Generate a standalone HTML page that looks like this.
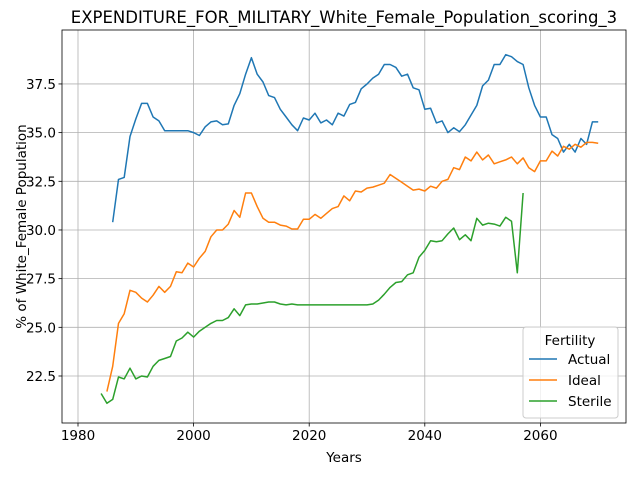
<!DOCTYPE html>
<html><head><meta charset="utf-8"><style>
body{margin:0;background:#fff;font-family:"Liberation Sans","DejaVu Sans",sans-serif;}
svg text{font-family:"DejaVu Sans","Liberation Sans",sans-serif;}
</style></head><body>
<svg id="chart" width="640" height="480" xmlns="http://www.w3.org/2000/svg"></svg>
<script>
const actualStart = 1986;
const actualValues = [30.4,32.6,32.7,34.8,35.7,36.5,36.5,35.8,35.6,35.1,35.1,35.1,35.1,35.1,35.0,34.85,35.3,35.55,35.6,35.4,35.45,36.4,37.0,38.0,38.85,38.0,37.6,36.9,36.8,36.2,35.8,35.4,35.1,35.75,35.65,36.0,35.5,35.65,35.4,36.0,35.85,36.45,36.55,37.25,37.5,37.8,38.0,38.5,38.5,38.35,37.9,38.0,37.3,37.2,36.2,36.25,35.5,35.6,35.0,35.25,35.05,35.4,35.9,36.4,37.4,37.7,38.5,38.5,39.0,38.9,38.65,38.5,37.3,36.4,35.8,35.8,34.9,34.7,34.0,34.4,34.0,34.7,34.4,35.55,35.55];
const idealStart = 1985;
const idealValues = [21.7,23.0,25.2,25.7,26.9,26.8,26.5,26.3,26.65,27.1,26.8,27.1,27.85,27.8,28.3,28.1,28.55,28.9,29.65,30.0,30.0,30.3,31.0,30.65,31.9,31.9,31.2,30.6,30.4,30.4,30.25,30.2,30.05,30.05,30.55,30.55,30.8,30.6,30.85,31.1,31.2,31.75,31.5,32.0,31.95,32.15,32.2,32.3,32.4,32.85,32.65,32.45,32.25,32.05,32.1,32.0,32.25,32.15,32.5,32.6,33.2,33.1,33.75,33.55,34.0,33.6,33.85,33.4,33.5,33.6,33.75,33.4,33.7,33.2,33.0,33.55,33.55,34.05,33.8,34.3,34.15,34.4,34.25,34.5,34.5,34.45];
const sterileStart = 1984;
const sterileValues = [21.6,21.1,21.3,22.45,22.35,22.9,22.35,22.5,22.45,23.0,23.3,23.4,23.5,24.3,24.45,24.75,24.5,24.8,25.0,25.2,25.35,25.35,25.5,25.95,25.6,26.15,26.2,26.2,26.25,26.3,26.3,26.2,26.15,26.2,26.15,26.15,26.15,26.15,26.15,26.15,26.15,26.15,26.15,26.15,26.15,26.15,26.15,26.2,26.4,26.7,27.05,27.3,27.35,27.7,27.8,28.6,28.95,29.45,29.4,29.45,29.8,30.1,29.5,29.75,29.45,30.6,30.25,30.35,30.3,30.2,30.65,30.45,27.8,31.9];
const xTicks = [1980,2000,2020,2040,2060];
const yTicks = [22.5,25.0,27.5,30.0,32.5,35.0,37.5];

const L=62,R=626,T=30,B=423;
const xs=y=>78+(y-1980)*5.78;
const ys=v=>376-(v-22.5)*19.47;
const svg=document.getElementById('chart');
const NS='http://www.w3.org/2000/svg';
function mk(tag,attrs,parent){const e=document.createElementNS(NS,tag);for(const k in attrs)e.setAttribute(k,attrs[k]);(parent||svg).appendChild(e);return e;}

const grid=mk('g',{});


xTicks.forEach(t=>{const x=xs(t);
 mk('line',{x1:x,x2:x,y1:T,y2:B,stroke:'#b0b0b0','stroke-width':0.8},grid);
 mk('line',{x1:x,x2:x,y1:B,y2:B+3.5,stroke:'#000','stroke-width':0.8},grid);
 const tx=mk('text',{x:x,y:B+17,'font-size':13.5,'text-anchor':'middle'},grid);tx.textContent=t;
 
 
});
yTicks.forEach(t=>{const y=ys(t);
 mk('line',{x1:L,x2:R,y1:y,y2:y,stroke:'#b0b0b0','stroke-width':0.8},grid);
 mk('line',{x1:L-3.5,x2:L,y1:y,y2:y,stroke:'#000','stroke-width':0.8},grid);
 const tx=mk('text',{x:L-6,y:y+5,'font-size':13.5,'text-anchor':'end'},grid);tx.textContent=t.toFixed(1);
 
 
});
const colors=['#1f77b4','#ff7f0e','#2ca02c'];
[[actualStart,actualValues,'actual'],[idealStart,idealValues,'ideal'],[sterileStart,sterileValues,'sterile']].forEach((s,i)=>{
 const pts=s[1].map((v,j)=>xs(s[0]+j).toFixed(1)+','+ys(v).toFixed(1)).join(' ');
 const p=mk('polyline',{points:pts,fill:'none',stroke:colors[i],'stroke-width':1.5,'stroke-linejoin':'round'});
 
 
});
const frame=mk('rect',{x:L,y:T,width:R-L,height:B-T,fill:'none',stroke:'#000','stroke-width':0.8});


const title=mk('text',{x:(L+R)/2,y:23,'font-size':16.5,'text-anchor':'middle'});title.textContent='EXPENDITURE_FOR_MILITARY_White_Female_Population_scoring_3';


const xl=mk('text',{x:(L+R)/2,y:462,'font-size':13.5,'text-anchor':'middle'});xl.textContent='Years';


const yl=mk('text',{x:26,y:(T+B)/2,'font-size':13.5,'text-anchor':'middle',transform:'rotate(-90 26 '+((T+B)/2)+')'});yl.textContent='% of White_Female Population';


const lg=mk('g',{});


mk('rect',{x:523,y:327,width:95,height:91,rx:3,fill:'#fff','fill-opacity':0.8,stroke:'#ccc'},lg);
const lt=mk('text',{x:570,y:345,'font-size':13.5,'text-anchor':'middle'},lg);lt.textContent='Fertility';
['Actual','Ideal','Sterile'].forEach((n,i)=>{const y=359+i*21;
 mk('line',{x1:529,x2:557,y1:y,y2:y,stroke:colors[i],'stroke-width':1.5},lg);
 const t=mk('text',{x:568,y:y+5,'font-size':13.5},lg);t.textContent=n;
 
 
});
</script>
</body></html>
